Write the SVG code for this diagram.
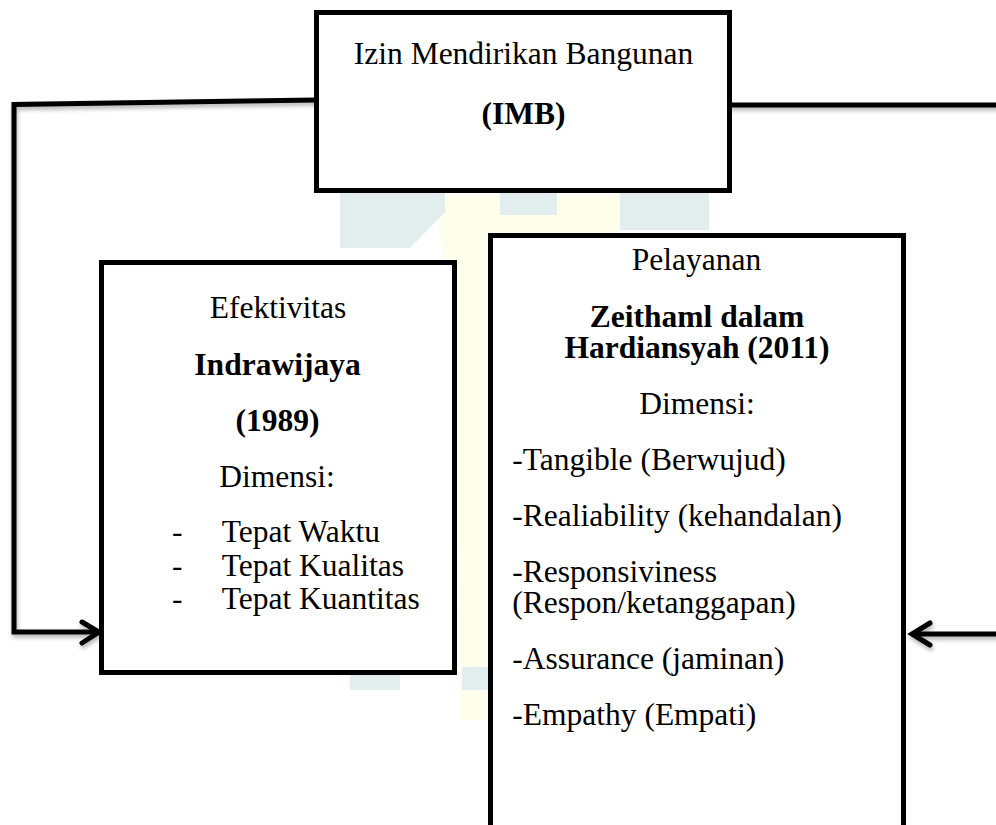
<svg xmlns="http://www.w3.org/2000/svg" width="996" height="825" viewBox="0 0 996 825">
<defs>
<style>
.box{fill:#fff;stroke:#000;stroke-width:5;stroke-linejoin:miter}
.con{fill:none;stroke:#000;stroke-width:5;stroke-linejoin:miter}
.head{fill:none;stroke:#000;stroke-width:5;stroke-linecap:round;stroke-linejoin:miter}
text{font-family:"Liberation Serif","Times New Roman",serif;font-size:31.5px;fill:#000}
.c{text-anchor:middle}
.b{font-weight:bold}
.wt{fill:#e2eded}
.wy{fill:#fffdec}
</style>
<filter id="sh" x="-5%" y="-5%" width="110%" height="120%">
<feDropShadow dx="1" dy="3" stdDeviation="2" flood-color="#000" flood-opacity="0.3"/>
</filter>
</defs>
<rect width="996" height="825" fill="#fff"/>
<g id="watermark">
<polygon class="wy" points="437,195 640,195 600,260 560,330 520,420 500,560 498,720 460,720 458,560 450,330"/>
<polygon class="wt" points="340,192 445,192 445,212 410,248 340,248"/>
<rect class="wt" x="500" y="193" width="57" height="22"/>
<rect class="wt" x="620" y="192" width="89" height="38"/>
<rect class="wt" x="350" y="673" width="50" height="17"/>
<rect class="wt" x="462" y="667" width="38" height="23"/>
</g>
<g id="connectors" filter="url(#sh)">
<polyline class="con" points="317,100 14,104.5 14,632 98,632"/>
<polyline class="head" points="82,622 99,632 82,643"/>
<line class="con" x1="730" y1="105" x2="1000" y2="105"/>
<line class="con" x1="1000" y1="634" x2="913" y2="634"/>
<polyline class="head" points="930,623 912,634 930,645"/>
</g>
<g id="imb">
<rect class="box" x="316.5" y="12.5" width="413" height="178"/>
<text class="c" x="523.5" y="64">Izin Mendirikan Bangunan</text>
<text class="c b" x="523.5" y="124">(IMB)</text>
</g>
<g id="efektivitas">
<rect class="box" x="101.5" y="262.5" width="353" height="410"/>
<text class="c" x="278" y="318">Efektivitas</text>
<text class="c b" x="277.5" y="375">Indrawijaya</text>
<text class="c b" x="277.5" y="431">(1989)</text>
<text class="c" x="277" y="487">Dimensi:</text>
<text x="172" y="542">-</text>
<text x="221.7" y="542">Tepat Waktu</text>
<text x="172" y="575.7">-</text>
<text x="221.7" y="575.7">Tepat Kualitas</text>
<text x="172" y="609">-</text>
<text x="221.7" y="609">Tepat Kuantitas</text>
</g>
<g id="pelayanan">
<rect class="box" x="490.5" y="235.5" width="413" height="600"/>
<text class="c" x="696.5" y="270">Pelayanan</text>
<text class="c b" x="697" y="326.7">Zeithaml dalam</text>
<text class="c b" x="697" y="358.3">Hardiansyah (2011)</text>
<text class="c" x="697" y="414.3">Dimensi:</text>
<text x="512.3" y="470">-Tangible (Berwujud)</text>
<text x="512.3" y="526">-Realiability (kehandalan)</text>
<text x="512.3" y="581.7">-Responsiviness</text>
<text x="512.3" y="613.3">(Respon/ketanggapan)</text>
<text x="512.3" y="669.3">-Assurance (jaminan)</text>
<text x="512.3" y="725">-Empathy (Empati)</text>
</g>
</svg>
